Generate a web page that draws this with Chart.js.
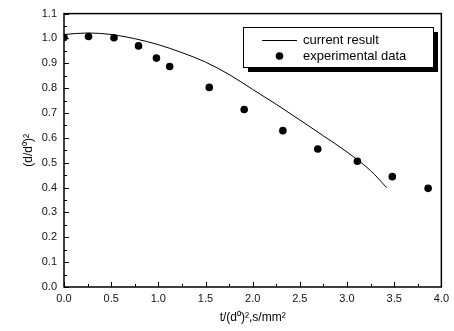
<!DOCTYPE html>
<html>
<head>
<meta charset="utf-8">
<script src="https://cdn.jsdelivr.net/npm/chart.js@4/dist/chart.umd.min.js"></script>
<style>
html,body{margin:0;padding:0;background:#fff;}
#wrap{width:454px;height:331px;position:relative;}
</style>
</head>
<body>
<div id="wrap"><canvas id="c" width="454" height="331"></canvas></div>
<script>
// ---- data ----
const modelT = [0, 0.25, 0.5, 0.75, 1.0, 1.25, 1.5, 1.75, 2.0, 2.25, 2.5, 2.75, 3.0, 3.25, 3.42];
const modelY = [1.016, 1.022, 1.016, 0.999, 0.975, 0.943, 0.905, 0.855, 0.795, 0.735, 0.672, 0.608, 0.543, 0.468, 0.400];
const expT = [0.0, 0.26, 0.53, 0.79, 0.98, 1.12, 1.54, 1.91, 2.32, 2.69, 3.11, 3.48, 3.86];
const expY = [1.004, 1.008, 1.003, 0.970, 0.921, 0.887, 0.803, 0.714, 0.629, 0.555, 0.506, 0.444, 0.397];
const xTickLabels = ['0.0','0.5','1.0','1.5','2.0','2.5','3.0','3.5','4.0'];
const yTickLabels = ['0.0','0.1','0.2','0.3','0.4','0.5','0.6','0.7','0.8','0.9','1.0','1.1'];
const seriesNames = ['current result', 'experimental data'];
const xTitle = 't/(d\u2070)\u00b2,s/mm\u00b2';
const yTitle = '(d/d\u2070)\u00b2';

const FONT = 'Liberation Sans, Arial, sans-serif';

const frameAndTicks = {
  id: 'frameAndTicks',
  afterDatasetsDraw(chart) {
    const {ctx, chartArea: a, scales: {x, y}} = chart;
    ctx.save();
    ctx.strokeStyle = '#000';
    ctx.lineWidth = 1.5;
    ctx.strokeRect(a.left, a.top, a.right - a.left, a.bottom - a.top);
    ctx.lineWidth = 1;
    ctx.beginPath();
    // y ticks (inward), major 0.1 minor 0.05
    for (let i = 0; i <= 22; i++) {
      const v = i * 0.05;
      const py = Math.round(y.getPixelForValue(v)) + 0.5;
      const len = (i % 2 === 0) ? 5 : 3;
      ctx.moveTo(a.left, py); ctx.lineTo(a.left + len, py);
    }
    // x ticks (inward), major 0.5 minor 0.25
    for (let i = 0; i <= 16; i++) {
      const v = i * 0.25;
      const px = Math.round(x.getPixelForValue(v)) + 0.5;
      const len = (i % 2 === 0) ? 5 : 3;
      ctx.moveTo(px, a.bottom); ctx.lineTo(px, a.bottom - len);
    }
    ctx.stroke();
    ctx.restore();
  }
};

const boxLegend = {
  id: 'boxLegend',
  afterDraw(chart) {
    const ctx = chart.ctx;
    const bx = 243, by = 27, bw = 190, bh = 40;
    ctx.save();
    ctx.fillStyle = '#000';
    ctx.fillRect(bx + 5, by + 5, bw, bh);
    ctx.fillStyle = '#fff';
    ctx.fillRect(bx, by, bw, bh);
    ctx.strokeStyle = '#000';
    ctx.lineWidth = 1;
    ctx.strokeRect(bx + 0.5, by + 0.5, bw, bh);
    // line sample
    ctx.beginPath();
    ctx.moveTo(262, 40.5); ctx.lineTo(297, 40.5);
    ctx.stroke();
    // dot sample
    ctx.fillStyle = '#000';
    ctx.beginPath();
    ctx.arc(279.5, 56, 3.8, 0, Math.PI * 2);
    ctx.fill();
    ctx.font = '13px ' + FONT;
    ctx.textBaseline = 'middle';
    ctx.textAlign = 'left';
    ctx.fillText(seriesNames[0], 303, 40);
    ctx.fillText(seriesNames[1], 303, 56);
    ctx.restore();
  }
};

new Chart(document.getElementById('c'), {
  type: 'scatter',
  data: {
    datasets: [
      {
        label: seriesNames[0],
        data: modelT.map((t, i) => ({x: t, y: modelY[i]})),
        showLine: true,
        borderColor: '#000',
        borderWidth: 1,
        pointRadius: 0,
        tension: 0.4,
        cubicInterpolationMode: 'monotone',
        fill: false
      },
      {
        label: seriesNames[1],
        data: expT.map((t, i) => ({x: t, y: expY[i]})),
        showLine: false,
        backgroundColor: '#000',
        borderColor: '#000',
        pointRadius: 3.8,
        pointBorderWidth: 0
      }
    ]
  },
  options: {
    responsive: false,
    animation: false,
    devicePixelRatio: 1,
    layout: {padding: {left: 0, top: 13, right: 11, bottom: 0}},
    plugins: {legend: {display: false}, tooltip: {enabled: false}},
    scales: {
      x: {
        type: 'linear', min: 0, max: 4,
        grid: {display: false, drawTicks: false},
        border: {display: false},
        afterFit(s) { s.height = 44; },
        afterBuildTicks(s) { s.ticks = xTickLabels.map(l => ({value: parseFloat(l)})); },
        ticks: {
          padding: 5,
          color: '#111',
          font: {family: FONT, size: 11},
          callback: (v) => xTickLabels.find(l => parseFloat(l) === v) ?? ''
        },
        title: {
          display: true, text: xTitle, color: '#000',
          font: {family: FONT, size: 12},
          padding: {top: 0, bottom: 6}
        }
      },
      y: {
        type: 'linear', min: 0, max: 1.1,
        grid: {display: false, drawTicks: false},
        border: {display: false},
        afterFit(s) { s.width = 64; },
        afterBuildTicks(s) { s.ticks = yTickLabels.map(l => ({value: parseFloat(l)})); },
        ticks: {
          padding: 7,
          color: '#111',
          font: {family: FONT, size: 11},
          callback: (v) => yTickLabels.find(l => Math.abs(parseFloat(l) - v) < 1e-6) ?? ''
        },
        title: {
          display: true, text: yTitle, color: '#000',
          font: {family: FONT, size: 12},
          padding: {top: 21, bottom: 0}
        }
      }
    }
  },
  plugins: [frameAndTicks, boxLegend]
});
</script>
</body>
</html>
